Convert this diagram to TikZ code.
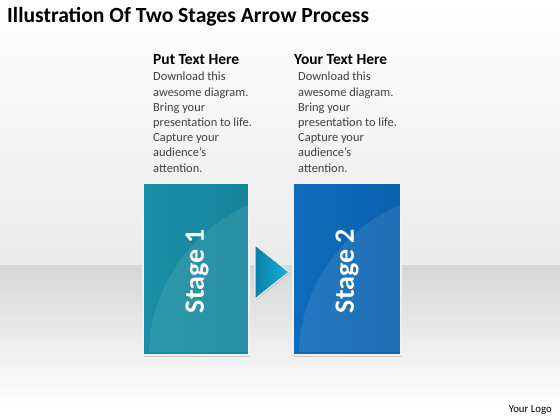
\documentclass[tikz,border=0pt]{standalone}
\usepackage{fontspec}
\setmainfont{Carlito}
\usetikzlibrary{shadows,fadings}
\definecolor{tealA}{HTML}{1A8FA6}
\definecolor{tealB}{HTML}{14849B}
\definecolor{blueA}{HTML}{0E6BBB}
\definecolor{blueB}{HTML}{0B62AF}
\definecolor{arrowA}{HTML}{13B2DE}
\definecolor{arrowB}{HTML}{0A7FA6}
\tikzset{
  stagebox/.style={draw=white!88!gray, line width=1.6pt, drop shadow={shadow xshift=1pt, shadow yshift=-1.5pt, opacity=0.35}},
  heading/.style={anchor=north west, inner sep=0pt, font=\fontsize{15.5}{17}\selectfont\bfseries},
  bodytext/.style={anchor=north west, inner sep=0pt, align=left, text=black!75, font=\fontsize{12.4}{15.2}\selectfont},
  stagelabel/.style={rotate=90, text=white, font=\fontsize{28}{30}\selectfont\bfseries}
}
\begin{document}
\begin{tikzpicture}[x=1pt,y=-1pt]
\useasboundingbox (0,0) rectangle (560,420);
% background
\shade[top color=white, bottom color=white!92!black] (0,0) rectangle (560,265);
\shade[top color=white!84!black, bottom color=white] (0,265) rectangle (560,405);
\fill[white] (0,405) rectangle (560,420);
% title
\node[anchor=west, inner sep=0pt, font=\fontsize{21.6}{23}\selectfont\bfseries] (title) at (7,17) {Illustration Of Two Stages Arrow Process};
% text columns
\node[heading] (h1) at (153,54) {Put Text Here};
\node[bodytext] (b1) at (153,72) {Download this\\awesome diagram.\\Bring your\\presentation to life.\\Capture your\\audience’s\\attention.};
\node[heading] (h2) at (294,54) {Your Text Here};
\node[bodytext] (b2) at (298,72) {Download this\\awesome diagram.\\Bring your\\presentation to life.\\Capture your\\audience’s\\attention.};
% stage boxes
\path[stagebox, left color=tealA, right color=tealB] (143,183) rectangle (249,355);
\fill[white, opacity=0.09] (149,352) .. controls (150,290) and (190,230) .. (249,205) -- (249,352) -- cycle;
\path[stagebox, left color=blueA, right color=blueB] (293,183) rectangle (401,355);
\fill[white, opacity=0.09] (299,352) .. controls (300,290) and (340,230) .. (401,205) -- (401,352) -- cycle;
\node[stagelabel] (s1) at (197,271) {Stage 1};
\node[stagelabel] (s2) at (347,271) {Stage 2};
% arrow
\path[draw=white!85!gray, line width=1pt, left color=arrowB, right color=arrowA, drop shadow={shadow xshift=1pt, shadow yshift=-1pt, opacity=0.3}] (255,245) -- (289,272) -- (255,299) -- cycle;
% logo
\node[anchor=east, inner sep=0pt, font=\fontsize{10.8}{12}\selectfont] (logo) at (552,410) {Your Logo};
\end{tikzpicture}
\end{document}
